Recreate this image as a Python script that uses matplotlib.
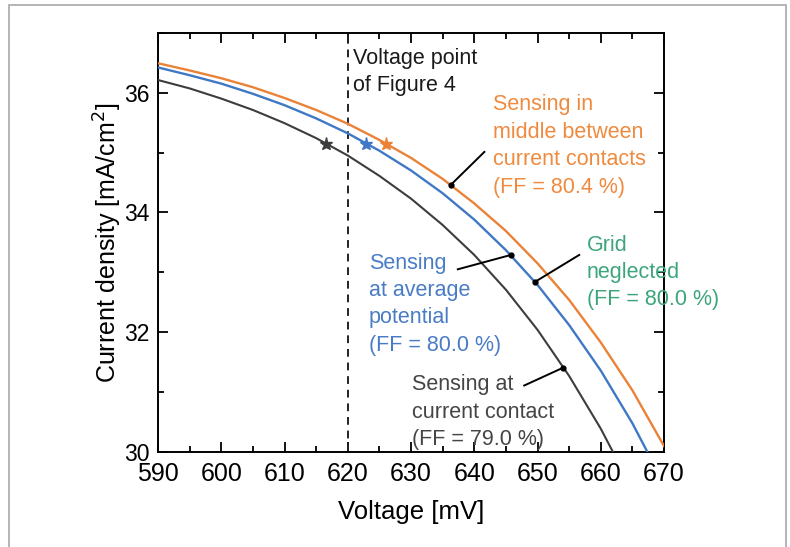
import matplotlib
matplotlib.use('Agg')
import matplotlib.pyplot as plt
from matplotlib.patches import Rectangle
import numpy as np

plt.rcParams['font.family'] = ['Liberation Sans', 'DejaVu Sans']

# J-V curves (voltage in mV, current density in mA/cm2)
volt = [590, 595, 600, 605, 610, 615, 620, 625, 630, 635, 640, 645, 650, 655, 660, 665, 670]

j_middle = [36.49, 36.37, 36.24, 36.09, 35.91, 35.71, 35.48, 35.21, 34.91, 34.56, 34.15,
            33.69, 33.15, 32.54, 31.83, 31.03, 30.10]
j_average = [36.42, 36.29, 36.15, 35.98, 35.79, 35.57, 35.32, 35.03, 34.70, 34.32, 33.88,
             33.37, 32.79, 32.12, 31.36, 30.48, 29.47]
j_contact = [36.21, 36.07, 35.90, 35.71, 35.49, 35.24, 34.95, 34.61, 34.23, 33.79, 33.29,
             32.71, 32.04, 31.27, 30.39, 29.38, 28.22]

# star markers (operating point) and pointer dots on the curves
star_v = [626.1, 622.9, 616.6]
star_j = [35.15, 35.15, 35.14]

dot_v = [636.3, 645.8, 649.6, 654.1]
dot_j = [34.46, 33.29, 32.84, 31.41]
tail_v = [641.6, 637.4, 656.6, 647.9]
tail_j = [35.01, 33.05, 33.29, 31.11]

labels = ["Sensing in\nmiddle between\ncurrent contacts\n(FF = 80.4 %)",
          "Sensing\nat average\npotential\n(FF = 80.0 %)",
          "Grid\nneglected\n(FF = 80.0 %)",
          "Sensing at\ncurrent contact\n(FF = 79.0 %)"]
label_v = [642.9, 623.3, 657.8, 630.1]
label_j = [35.97, 33.33, 33.63, 31.30]

c_orange = '#ea8238'
c_blue = '#3f78c4'
c_gray = '#3d3d3d'
c_green = '#3da57c'
label_colors = ['#ef8a3e', '#4a7cc6', c_green, '#454545']

fig = plt.figure(figsize=(7.9, 5.47), dpi=100)
fig.patches.append(Rectangle((9 / 790, -0.02), 777 / 790, 1.0 - 5 / 547 + 0.02,
                             transform=fig.transFigure, fill=False,
                             edgecolor='#a8a8a8', linewidth=1.2))

ax = fig.add_axes([158 / 790, 1 - 452 / 547, 506 / 790, (452 - 32.7) / 547])

ax.plot(volt, j_contact, color=c_gray, lw=1.5, zorder=3)
ax.plot(volt, j_average, color=c_blue, lw=1.7, zorder=3)
ax.plot(volt, j_middle, color=c_orange, lw=1.7, zorder=3)

for v, j, c in zip(star_v, star_j, [c_orange, c_blue, c_gray]):
    ax.plot(v, j, marker='*', color=c, markersize=9.5, zorder=4)

ax.axvline(620, color='#222222', lw=1.4, ls=(0, (4, 3)), zorder=2)

for v0, j0, v1, j1 in zip(dot_v, dot_j, tail_v, tail_j):
    ax.plot([v0, v1], [j0, j1], color='black', lw=1.4, zorder=5)
    ax.plot(v0, j0, 'o', color='black', markersize=3.5, zorder=6)

ax.text(620.8, 36.75, "Voltage point\nof Figure 4", fontsize=15.5, color='#1a1a1a',
        va='top', ha='left', linespacing=1.4)

for txt, v, j, c in zip(labels, label_v, label_j, label_colors):
    ax.text(v, j, txt, fontsize=15.5, color=c, va='top', ha='left',
            linespacing=1.4, clip_on=False, zorder=7)

ax.set_xlim(590, 670)
ax.set_ylim(30, 37)
ax.set_xticks(np.arange(590, 671, 10))
ax.set_xticks(np.arange(595, 670, 10), minor=True)
ax.set_yticks([30, 32, 34, 36])
ax.set_yticks([31, 33, 35, 37], minor=True)

ax.tick_params(which='both', direction='in', top=True, right=True, width=1.3)
ax.tick_params(which='major', length=7)
ax.tick_params(which='minor', length=4)
ax.tick_params(axis='x', which='major', labelsize=18, pad=7)
ax.tick_params(axis='y', which='major', labelsize=16.5, pad=6)
for s in ax.spines.values():
    s.set_linewidth(1.4)

ax.set_xlabel("Voltage [mV]", fontsize=18.5, labelpad=10)
ax.set_ylabel("Current density [mA/cm$^2$]", fontsize=18, labelpad=0)

fig.savefig('out.png', dpi=100)
